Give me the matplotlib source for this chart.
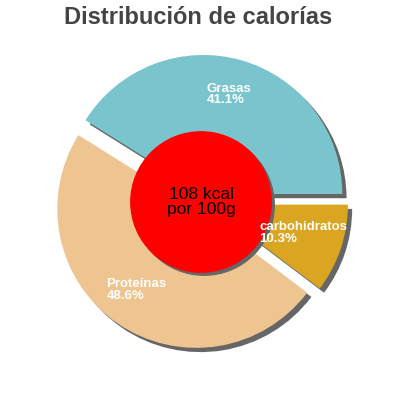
import numpy as np
import matplotlib.pyplot as plt
from matplotlib.patches import Circle

plt.rcParams['font.family'] = ['Liberation Sans', 'DejaVu Sans']

labels = ['Grasas', 'Proteínas', 'carbohidratos']
values = [41.1, 48.6, 10.3]
colors = ['#7AC5CD', '#EEC591', '#DAA520']
kcal = 108
# top-left corner of each label, in pie-radius units
label_xy = [(0.043, 0.856), (-0.68, -0.55), (0.42, -0.14)]

R = 139.0  # pie radius in pixels
cx, cy = 201.0, 202.0  # pie centre in pixels (from top-left)

fig = plt.figure(figsize=(4, 4), dpi=100)
ax = fig.add_axes([0, 0, 1, 1])

shadow = dict(ox=0.022, oy=-0.022, facecolor='#666666', edgecolor='none', alpha=1)
wedges, _ = ax.pie(values, colors=colors, startangle=0, counterclock=True,
                   explode=[0.06] * 3, radius=1.0, shadow=shadow,
                   wedgeprops=dict(linewidth=0))

for lab, v, (tx, ty) in zip(labels, values, label_xy):
    ax.text(tx, ty, '%s\n%.1f%%' % (lab, v), color='white', fontsize=9.5,
            fontweight='bold', ha='left', va='top', linespacing=0.92, zorder=5)

ax.add_patch(Circle((0.022, -0.022), 0.51, facecolor='#666666', edgecolor='none', zorder=3))
ax.add_patch(Circle((0, 0), 0.51, facecolor='#FF0000', edgecolor='none', zorder=4))
ax.text(0, 0, '%d kcal\npor 100g' % kcal, color='black', fontsize=12.5,
        ha='center', va='center', linespacing=0.95, zorder=6)

ax.set_xlim(-cx / R, (400 - cx) / R)
ax.set_ylim(-(400 - cy) / R, cy / R)
ax.set_aspect('equal')
ax.axis('off')

fig.text(0.495, 0.955, 'Distribución de calorías', color='#444444', fontsize=17,
         fontweight='bold', ha='center', va='center')

fig.savefig('out.png', dpi=100)
